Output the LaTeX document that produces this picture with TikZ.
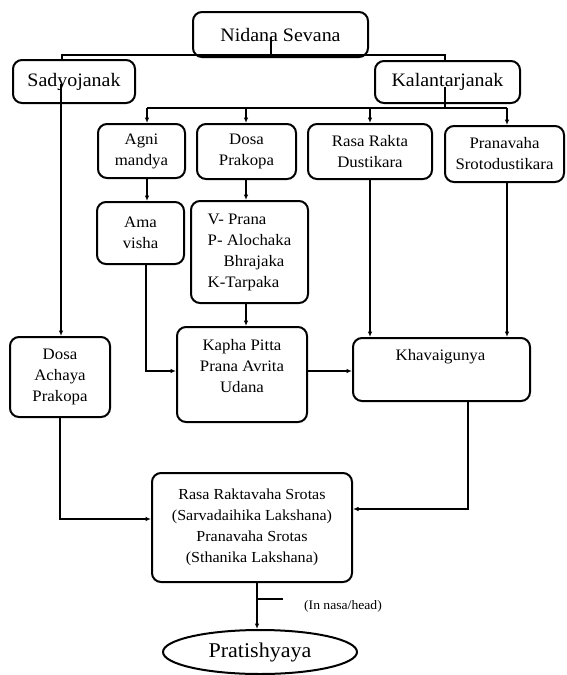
\documentclass[tikz,border=0pt]{standalone}
\usepackage{fontspec}
\setmainfont{Liberation Serif}[FakeStretch=1.05]
\usetikzlibrary{arrows.meta,shapes.geometric}
\newcommand\fsz[1]{\fontsize{#1}{21}\selectfont}
\begin{document}
\begin{tikzpicture}[x=1pt,y=-1pt,
  box/.style={draw, line width=2pt, rounded corners=9pt, inner sep=0pt, align=center, font=\fsz{16}},
  txt/.style={inner sep=0pt, align=center, font=\fsz{16}},
  conn/.style={line width=1.2pt},
  arr/.style={conn, -{Latex[length=5.5pt,width=4.5pt]}}]
\useasboundingbox (0,0) rectangle (566,675);
% boxes
\node[box, font=\fsz{19}, minimum width=175pt, minimum height=45pt] (nidana) at (280.5,34.5) {Nidana Sevana};
\node[box, font=\fsz{19}, minimum width=122pt, minimum height=43pt] (sadyo) at (74,81.5) {Sadyojanak};
\node[box, font=\fsz{19}, minimum width=145pt, minimum height=42pt] (kalan) at (447.5,82) {Kalantarjanak};
\node[box, minimum width=87pt, minimum height=54pt] (agni) at (141.5,151) {Agni\\mandya};
\node[box, minimum width=99pt, minimum height=55pt] (dosa) at (246.5,151.5) {Dosa\\Prakopa};
\node[box, minimum width=124pt, minimum height=55pt] (rasar) at (370,151.5) {Rasa Rakta\\Dustikara};
\node[box, minimum width=119pt, minimum height=56pt] (prana) at (504.5,154) {Pranavaha\\Srotodustikara};
\node[box, minimum width=87pt, minimum height=62pt] (ama) at (140.5,233) {Ama\\visha};
\node[box, align=left, minimum width=117pt, minimum height=102pt] (vprana) at (249.5,252) {V- Prana\\P- Alochaka\\\hspace*{16pt}Bhrajaka\\K-Tarpaka};
\node[box, minimum width=100pt, minimum height=80pt] (achaya) at (60,377) {Dosa\\Achaya\\Prakopa};
\node[box, minimum width=130pt, minimum height=95pt] (kapha) at (242,374.5) {};
\node[txt] (kaphaT) at (242,366) {Kapha Pitta\\Prana Avrita\\Udana};
\node[box, minimum width=177pt, minimum height=63pt] (khav) at (441.5,369.5) {};
\node[txt] (khavT) at (440.5,357) {Khavaigunya};
\node[box, font=\fsz{15.3}, minimum width=200pt, minimum height=109pt] (rasaS) at (252,527.5) {Rasa Raktavaha Srotas\\(Sarvadaihika Lakshana)\\Pranavaha Srotas\\(Sthanika Lakshana)};
\node[draw, line width=2pt, ellipse, inner sep=0pt, minimum width=194pt, minimum height=44pt, font=\fsz{21}] (ell) at (260,652) {Pratishyaya};
\node[txt, font=\fsz{13}] (nasa) at (343,606) {(In nasa/head)};
% coordinates
\coordinate (nv) at (271,37);
\coordinate (jN) at (271,55);
\coordinate (jL) at (62,55);
\coordinate (jR) at (445,55);
\coordinate (sv) at (61,84);
\coordinate (kv) at (445,87);
\coordinate (kj) at (445,108);
\coordinate (h1) at (147,108);
\coordinate (h2) at (246,108);
\coordinate (h3) at (370,108);
\coordinate (h4) at (507,108);
\coordinate (aK) at (146,371);
\coordinate (dA) at (60,519);
\coordinate (kB) at (468,509);
\coordinate (rE) at (257,599);
\coordinate (tk) at (283,599);
% connectors
\draw[conn] (nv) -- (jN);
\draw[conn] (sadyo.north -| jL) -- (jL) -- (jR) -- (kalan.north -| jR);
\draw[arr] (sv) -- (achaya.north -| sv);
\draw[conn] (kv) -- (kj);
\draw[conn] (h1) -- (h4);
\draw[arr] (h1) -- (agni.north -| h1);
\draw[arr] (h2) -- (dosa.north -| h2);
\draw[arr] (h3) -- (rasar.north -| h3);
\draw[arr] (h4) -- (prana.north -| h4);
\draw[arr] (agni.south -| h1) -- (ama.north -| h1);
\draw[arr] (dosa.south -| h2) -- (vprana.north -| h2);
\draw[arr] (ama.south -| aK) -- (aK) -- (kapha.west |- aK);
\draw[arr] (vprana.south -| h2) -- (kapha.north -| h2);
\draw[arr] (rasar.south -| h3) -- (khav.north -| h3);
\draw[arr] (prana.south -| h4) -- (khav.north -| h4);
\draw[arr] (kapha.east |- aK) -- (khav.west |- aK);
\draw[arr] (achaya.south -| dA) -- (dA) -- (rasaS.west |- dA);
\draw[arr] (khav.south -| kB) -- (kB) -- (rasaS.east |- kB);
\draw[arr] (rasaS.south -| rE) -- (ell.north -| rE);
\draw[conn] (rE) -- (tk);
\end{tikzpicture}
\end{document}
